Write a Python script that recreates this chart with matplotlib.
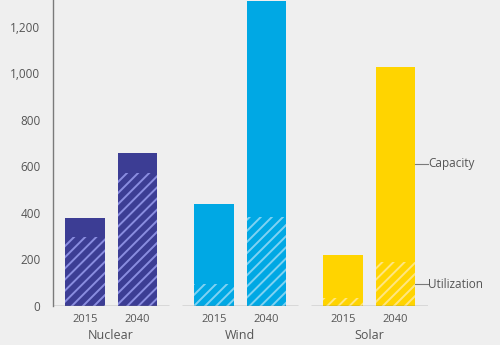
import matplotlib
matplotlib.use("Agg")
import matplotlib.pyplot as plt
import numpy as np
from matplotlib.ticker import FuncFormatter

groups = ["Nuclear", "Wind", "Solar"]
years = ["2015", "2040"]
capacity = {"Nuclear": [376, 655], "Wind": [437, 1310], "Solar": [218, 1028]}
utilization = {"Nuclear": [294, 569], "Wind": [93, 383], "Solar": [34, 189]}
colors = {"Nuclear": "#3c3d94", "Wind": "#00a8e4", "Solar": "#ffd400"}
hatch_colors = {"Nuclear": "#8a8de0", "Wind": "#7fd2f2", "Solar": "#ffe680"}
yticks = [0, 200, 400, 600, 800, 1000, 1200]
label_capacity = "Capacity"
label_util = "Utilization"

plt.rcParams["font.family"] = ["Open Sans", "DejaVu Sans"]
plt.rcParams["hatch.linewidth"] = 1.4

bg = "#efefef"
fig = plt.figure(figsize=(5.0, 3.45), dpi=100, facecolor=bg)
ax = fig.add_axes([0.106, 0.114, 0.749, 0.886])
ax.set_facecolor(bg)

offset = 0.2025
width = 0.306
half = 0.45
tick_pos, tick_lab = [], []
for gi, g in enumerate(groups):
    for yi, yr in enumerate(years):
        x = gi + (yi - 0.5) * 2 * offset
        ax.bar(x, capacity[g][yi], width=width, color=colors[g], linewidth=0, zorder=2)
        ax.bar(x, utilization[g][yi], width=width, facecolor=colors[g],
               edgecolor=hatch_colors[g], hatch="///", linewidth=0, zorder=3)
        tick_pos.append(x)
        tick_lab.append(yr)
    ax.plot([gi - half, gi + half], [0, 0], color="#7a7a7a", lw=1.0, zorder=4,
            solid_capstyle="butt")
    ax.text(gi, -0.099, g, transform=ax.get_xaxis_transform(), ha="center",
            va="center", fontsize=9, color="#555555")

ax.set_xlim(-half, len(groups) - 1 + half)
ax.set_ylim(0, 1315)
ax.set_yticks(yticks)
ax.yaxis.set_major_formatter(FuncFormatter(lambda v, p: f"{int(v):,}"))
ax.set_xticks(tick_pos)
ax.set_xticklabels(tick_lab)
ax.tick_params(axis="x", length=0, pad=6, labelsize=8, labelcolor="#555555")
ax.tick_params(axis="y", length=0, pad=9, labelsize=8.5, labelcolor="#555555")
for s in ["top", "right", "bottom"]:
    ax.spines[s].set_visible(False)
ax.spines["left"].set_color("#7a7a7a")
ax.spines["left"].set_linewidth(1.0)

# leader labels on last bar
gl = len(groups) - 1
xr = gl + offset + width / 2
for val, lab in [(610, label_capacity), (93, label_util)]:
    ax.plot([xr, gl + half], [val, val], color="#7a7a7a", lw=0.8, zorder=4, clip_on=False)
    ax.text(gl + half + 0.005, val, lab, ha="left", va="center", fontsize=8.5,
            color="#555555", clip_on=False)

fig.savefig("out.png", dpi=100, facecolor=bg)
